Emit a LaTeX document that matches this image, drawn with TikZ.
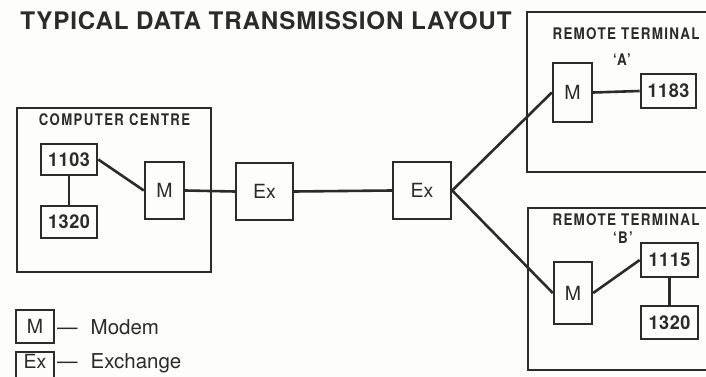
\documentclass[tikz,border=0pt]{standalone}
\usepackage{fontspec}
\setmainfont{TeX Gyre Heros}
\newfontfamily\titlefont[LetterSpace=3.5]{TeX Gyre Heros}
\newfontfamily\labfont[FakeStretch=0.82,LetterSpace=9]{TeX Gyre Heros}
\newfontfamily\remfont[FakeStretch=0.84,LetterSpace=8]{TeX Gyre Heros}
\newfontfamily\numfont[FakeStretch=0.95,LetterSpace=3]{TeX Gyre Heros}
\definecolor{ink}{HTML}{2B2B2B}
\definecolor{paper}{HTML}{FDFDFB}
\tikzset{
  frame/.style={draw=ink, line width=2.7pt},
  unit/.style={draw=ink, line width=2.6pt, inner sep=0pt, text=ink,
    font=\numfont\bfseries\fontsize{19}{21}\selectfont},
  dev/.style={draw=ink, line width=2.4pt, inner sep=0pt, text=ink,
    font=\fontsize{19.5}{22}\selectfont},
  lab/.style={text=ink, inner sep=0pt, font=\labfont\bfseries\fontsize{16}{18}\selectfont},
  rem/.style={text=ink, inner sep=0pt, font=\remfont\bfseries\fontsize{16}{18}\selectfont},
  key/.style={text=ink, inner sep=0pt, anchor=base west, font=\fontsize{20.5}{22}\selectfont},
  wire/.style={draw=ink, line width=2.6pt},
}

\begin{document}
\begin{tikzpicture}[x=1pt, y=-1pt]

\useasboundingbox[fill=paper] (0,0) rectangle (706,377);

\node[text=ink, inner sep=0pt, font=\titlefont\bfseries\fontsize{24.2}{26}\selectfont] (title) at (266,21) {TYPICAL DATA TRANSMISSION LAYOUT};

% ---------------- computer centre ----------------
\draw[frame] (17,108) rectangle (211,272);
\node[lab] (cclab) at (114.5,120) {COMPUTER CENTRE};
\node[unit, minimum width=56, minimum height=31] (c1103) at (69,159.5) {1103};
\node[unit, minimum width=56, minimum height=32] (c1320) at (69,222) {1320};
\node[dev, minimum width=39, minimum height=57] (mc) at (164.5,190.5) {M};

% ---------------- exchanges ----------------
\node[dev, minimum width=57, minimum height=57] (exa) at (264.5,191.5) {Ex};
\node[dev, minimum width=58, minimum height=57] (exb) at (422,190.5) {Ex};

% ---------------- remote terminal A ----------------
\draw[frame] (720,12) -| (527,172) -- (720,172);
\node[rem] (ralab) at (626,34) {REMOTE TERMINAL};
\node[rem] (raid) at (622,60) {‘A’};
\node[dev, minimum width=39, minimum height=59] (ma) at (572.5,92.5) {M};
\node[unit, minimum width=55, minimum height=34] (a1183) at (668.5,91) {1183};

% ---------------- remote terminal B ----------------
\draw[frame] (720,208) -| (528,370) -- (720,370);
\node[rem] (rblab) at (626,220) {REMOTE TERMINAL};
\node[rem] (rbid) at (623,238) {‘B’};
\node[dev, minimum width=38, minimum height=62] (mb) at (573,293) {M};
\node[unit, minimum width=57, minimum height=34] (b1115) at (669.5,260) {1115};
\node[unit, minimum width=57, minimum height=33] (b1320) at (669.5,322.5) {1320};

% ---------------- links ----------------
\draw[wire] (c1103.south) -- (c1320.north);
\draw[wire] (c1103.east) -- (mc.west);
\draw[wire] (mc.east) -- (exa.west);
\draw[wire] (exa.east) -- (exb.west);
\draw[wire] (exb.east) -- (ma.west);
\draw[wire] (exb.east) -- (mb.west);
\draw[wire] (ma.east) -- (a1183.west);
\draw[wire] (mb.east) -- (b1115.west);
\draw[wire] (b1115.south) -- (b1320.north);

% ---------------- key ----------------
\node[dev, minimum width=38, minimum height=33] (keym) at (35,326.5) {M};
\node[key] (keymt) at (57,334) {—\hspace{13pt}Modem};
\node[dev, minimum width=38, text height=16pt, text depth=12pt, anchor=base] (keyex) at (35,368) {Ex};
\node[key] (keyext) at (57,368) {—\hspace{13pt}Exchange};

\end{tikzpicture}
\end{document}
